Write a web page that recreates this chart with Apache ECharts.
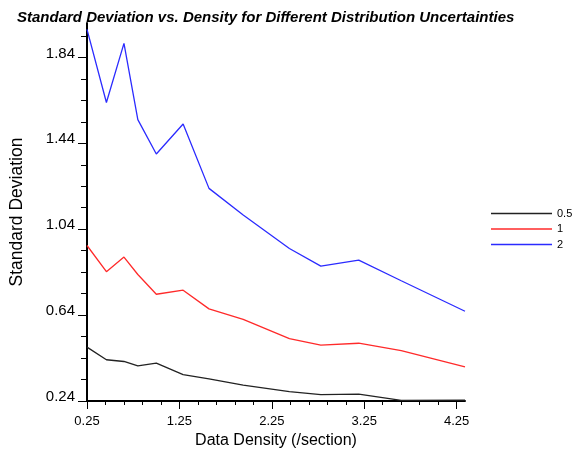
<!DOCTYPE html>
<html>
<head>
<meta charset="utf-8">
<script src="https://cdn.jsdelivr.net/npm/echarts@6/dist/echarts.min.js"></script>
<style>html,body{margin:0;padding:0;background:#fff}#c{width:574px;height:457px}</style>
</head>
<body>
<div id="c"></div>
<script>
const density = [0.25, 0.46, 0.65, 0.80, 1.00, 1.29, 1.57, 1.94, 2.44, 2.78, 3.19, 3.65, 4.34];
const sd05 = [0.491, 0.432, 0.424, 0.404, 0.416, 0.363, 0.343, 0.314, 0.284, 0.270, 0.272, 0.243, 0.244];
const sd1 = [0.964, 0.842, 0.910, 0.829, 0.737, 0.756, 0.669, 0.620, 0.530, 0.500, 0.509, 0.475, 0.399];
const sd2 = [1.97, 1.63, 1.905, 1.55, 1.39, 1.53, 1.23, 1.106, 0.95, 0.868, 0.896, 0.80, 0.658];
const seriesNames = ['0.5', '1', '2'];
const xMajorTicks = [0.25, 1.25, 2.25, 3.25, 4.25];
const xMinorTicks = [0.25,0.45,0.65,0.85,1.05,1.25,1.45,1.65,1.85,2.05,2.25,2.45,2.65,2.85,3.05,3.25,3.45,3.65,3.85,4.05,4.25];
const yMajorTicks = [0.24, 0.64, 1.04, 1.44, 1.84];
const yMinorTicks = [0.24,0.34,0.44,0.54,0.64,0.74,0.84,0.94,1.04,1.14,1.24,1.34,1.44,1.54,1.64,1.74,1.84,1.94];
const X_MIN = 0.25, X_MAX = 4.34, Y_MIN = 0.24, Y_MAX = 2.0;

const FONT = '"Liberation Sans", Arial, Helvetica, sans-serif';
const pair = (xs, ys) => xs.map((x, i) => [x, ys[i]]);
const chart = echarts.init(document.getElementById('c'));
const colors = ['#222222', '#ff2a2a', '#2b2bff'];
const datasets = [sd05, sd1, sd2];

chart.setOption({
  animation: false,
  backgroundColor: '#fff',
  title: {
    text: 'Standard Deviation vs. Density for Different Distribution Uncertainties',
    left: 12, top: 5,
    textStyle: { fontFamily: FONT, fontSize: 15, fontWeight: 'bold', fontStyle: 'italic', color: '#000' }
  },
  legend: {
    orient: 'vertical', left: 486, top: 203, padding: 5,
    icon: 'rect', itemWidth: 61, itemHeight: 1.5, itemGap: 4.5,
    textStyle: { fontFamily: FONT, fontSize: 11, color: '#000' },
    data: seriesNames
  },
  grid: { left: 87, right: 109, top: 23, bottom: 56, containLabel: false, outerBoundsMode: 'none' },
  xAxis: [
    {
      type: 'value', min: X_MIN, max: X_MAX, position: 'bottom',
      name: 'Data Density (/section)', nameLocation: 'middle', nameGap: 30,
      nameTextStyle: { fontFamily: FONT, fontSize: 16, color: '#000' },
      splitLine: { show: false },
      axisLine: { show: true, onZero: false, lineStyle: { color: '#000', width: 2 } },
      axisTick: { show: true, length: 8, customValues: xMajorTicks, lineStyle: { color: '#000', width: 1 } },
      axisLabel: { show: true, customValues: xMajorTicks, margin: 14, fontFamily: FONT, fontSize: 13, color: '#000',
        formatter: v => v.toFixed(2) }
    },
    {
      type: 'value', min: X_MIN, max: X_MAX, position: 'bottom',
      splitLine: { show: false },
      axisLine: { show: false, onZero: false },
      axisTick: { show: true, length: 4, customValues: xMinorTicks, lineStyle: { color: '#000', width: 1 } },
      axisLabel: { show: false }
    }
  ],
  yAxis: [
    {
      type: 'value', min: Y_MIN, max: Y_MAX, position: 'left',
      name: 'Standard Deviation', nameLocation: 'middle', nameGap: 61,
      nameTextStyle: { fontFamily: FONT, fontSize: 17.5, color: '#000' },
      splitLine: { show: false },
      axisLine: { show: true, onZero: false, lineStyle: { color: '#000', width: 2 } },
      axisTick: { show: true, length: 9, customValues: yMajorTicks, lineStyle: { color: '#000', width: 1 } },
      axisLabel: { show: true, customValues: yMajorTicks, margin: 12, fontFamily: FONT, fontSize: 15, color: '#000',
        verticalAlign: 'bottom', lineHeight: 8, formatter: v => v.toFixed(2) }
    },
    {
      type: 'value', min: Y_MIN, max: Y_MAX, position: 'left',
      splitLine: { show: false },
      axisLine: { show: false, onZero: false },
      axisTick: { show: true, length: 6, customValues: yMinorTicks, lineStyle: { color: '#000', width: 1 } },
      axisLabel: { show: false }
    }
  ],
  series: seriesNames.map((n, i) => ({
    name: n, type: 'line', xAxisIndex: 0, yAxisIndex: 0,
    data: pair(density, datasets[i]),
    showSymbol: false, symbol: 'none',
    color: colors[i],
    lineStyle: { color: colors[i], width: 1.3 }
  }))
});
</script>
</body>
</html>
